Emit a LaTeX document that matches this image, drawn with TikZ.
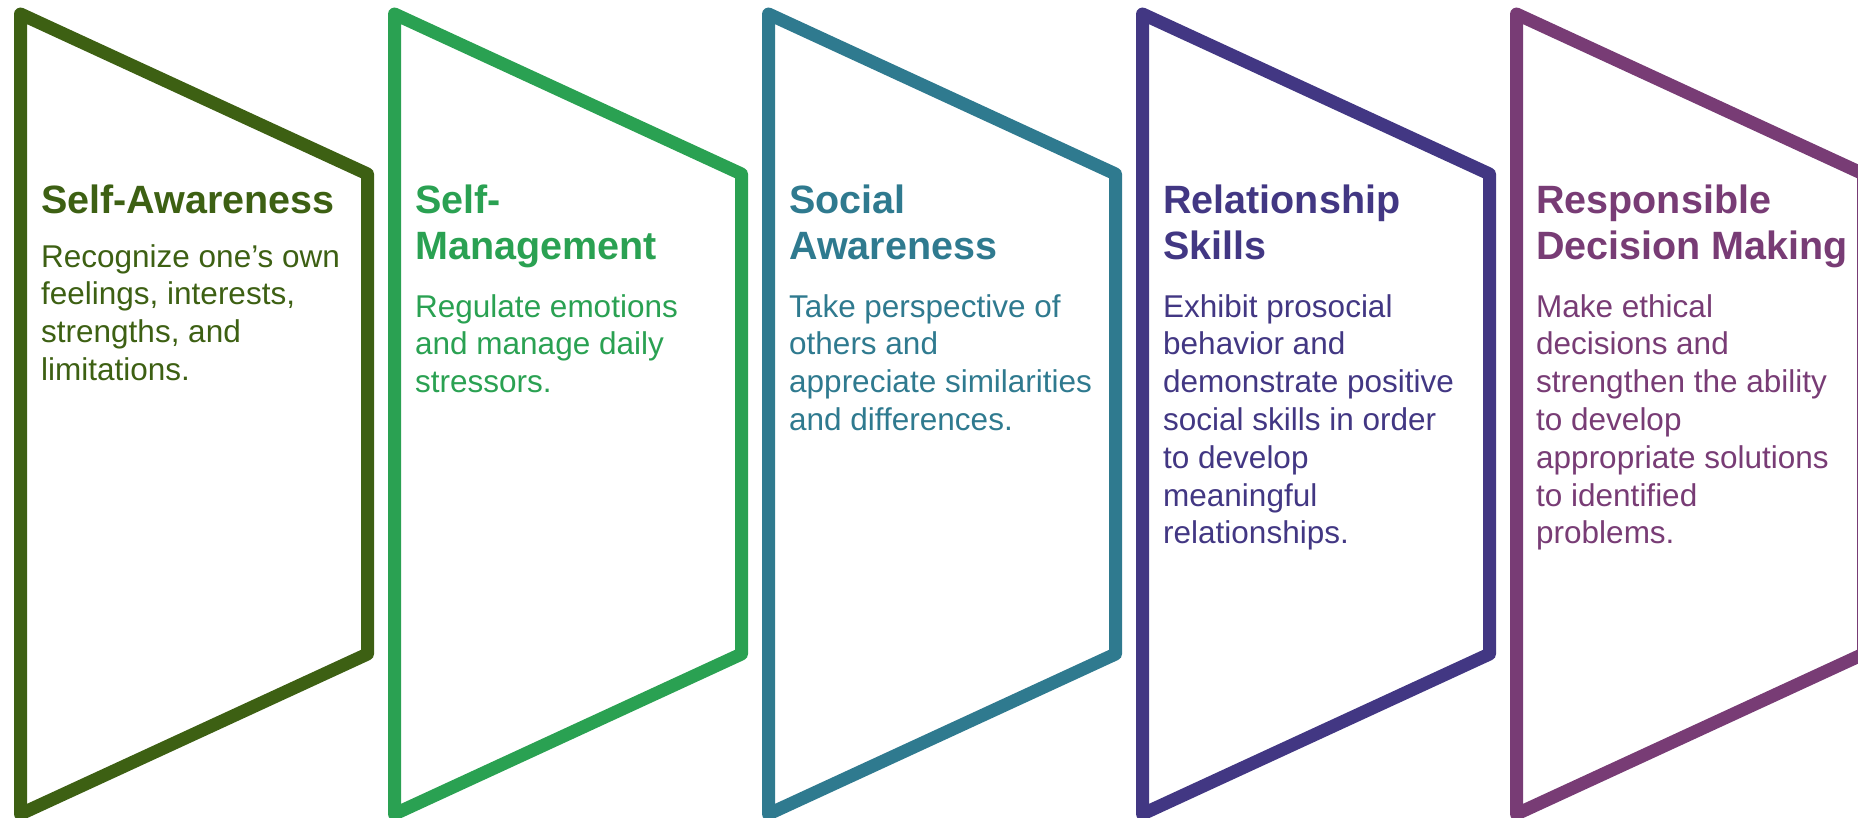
\documentclass[tikz,border=0pt]{standalone}
\usepackage{fontspec}
\setmainfont{Liberation Sans}
\definecolor{cA}{RGB}{61,96,19}
\definecolor{cB}{RGB}{42,161,82}
\definecolor{cC}{RGB}{47,122,143}
\definecolor{cD}{RGB}{66,55,131}
\definecolor{cE}{RGB}{120,60,117}
\begin{document}
\begin{tikzpicture}[x=1pt,y=-1pt,
  panel/.style={line width=13pt, line join=round},
  ttl/.style={anchor=base west, align=left, inner sep=0pt, font=\bfseries\fontsize{39.5}{46}\selectfont},
  body/.style={anchor=base west, align=left, inner sep=0pt, font=\fontsize{31.5}{37.8}\selectfont}]
\path[use as bounding box] (0,0) rectangle (1858,817);
\clip (0,0) rectangle (1858,817);
% panels
\draw[panel, cA] (20.5,14) -- (367.5,174) -- (367.5,654) -- (20.5,814) -- cycle;
\draw[panel, cB] (394.5,14) -- (741.5,174) -- (741.5,654) -- (394.5,814) -- cycle;
\draw[panel, cC] (768.5,14) -- (1115.5,174) -- (1115.5,654) -- (768.5,814) -- cycle;
\draw[panel, cD] (1142.5,14) -- (1489.5,174) -- (1489.5,654) -- (1142.5,814) -- cycle;
\draw[panel, cE] (1516.5,14) -- (1863.5,174) -- (1863.5,654) -- (1516.5,814) -- cycle;
% texts (base anchor = baseline of the last line)
\node[ttl, cA] (t1) at (41,213) {Self-Awareness};
\node[body, cA] (b1) at (41,380.4) {Recognize one’s own\\feelings, interests,\\strengths, and\\limitations.};
\node[ttl, cB] (t2) at (415,259) {Self-\\Management};
\node[body, cB] (b2) at (415,392.6) {Regulate emotions\\and manage daily\\stressors.};
\node[ttl, cC] (t3) at (789,259) {Social\\Awareness};
\node[body, cC] (b3) at (789,430.4) {Take perspective of\\others and\\appreciate similarities\\and differences.};
\node[ttl, cD] (t4) at (1163,259) {Relationship\\Skills};
\node[body, cD] (b4) at (1163,543.8) {Exhibit prosocial\\behavior and\\demonstrate positive\\social skills in order\\to develop\\meaningful\\relationships.};
\node[ttl, cE] (t5) at (1536,259) {Responsible\\Decision Making};
\node[body, cE] (b5) at (1536,543.8) {Make ethical\\decisions and\\strengthen the ability\\to develop\\appropriate solutions\\to identified\\problems.};
\end{tikzpicture}
\end{document}
